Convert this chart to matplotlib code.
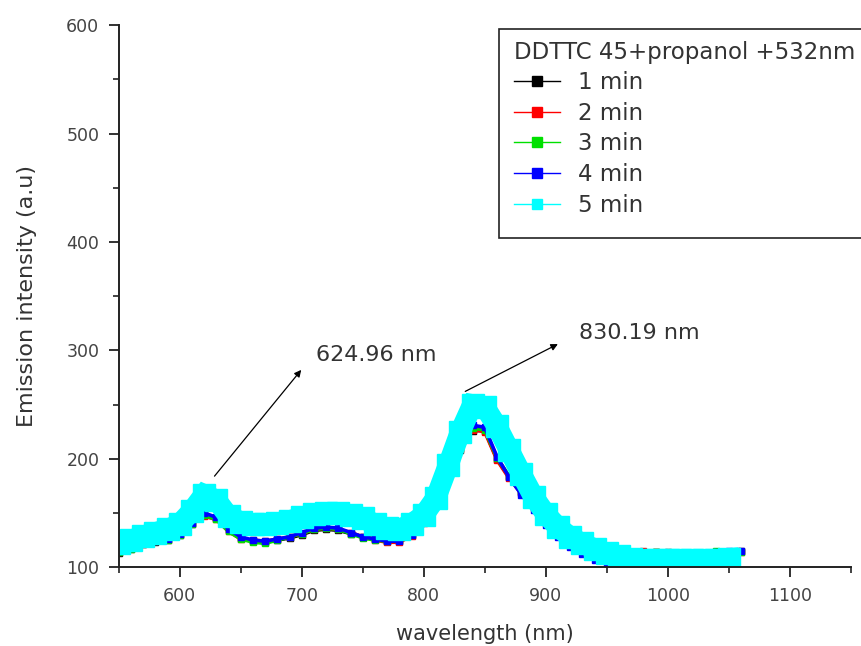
import matplotlib
matplotlib.use("Agg")
import matplotlib.pyplot as plt
from matplotlib.lines import Line2D
from matplotlib.patches import Rectangle
from matplotlib.ticker import MultipleLocator

# wavelength grid (nm)
wavelength = [550, 560, 570, 580, 590, 600, 610, 620, 630, 640,
              650, 660, 670, 680, 690, 700, 710, 720, 730, 740,
              750, 760, 770, 780, 790, 800, 810, 820, 830, 840,
              850, 860, 870, 880, 890, 900, 910, 920, 930, 940,
              950, 960, 970, 980, 990, 1000, 1010, 1020, 1030, 1040,
              1050, 1060]

# emission intensity (a.u) for each exposure time
min1 = [113, 117, 121, 123, 125, 130, 140, 148, 145, 134,
        127, 124, 123, 125, 127, 130, 134, 135, 134, 131,
        128, 126, 124, 124, 130, 142, 160, 184, 208, 226,
        226, 200, 183, 169, 156, 142, 132, 124, 118, 114,
        113, 112, 113, 114, 114, 114, 113, 113, 113, 114,
        114, 115]
min2 = [114, 118, 121, 124, 126, 131, 141, 147, 144, 133,
        126, 125, 124, 126, 128, 131, 135, 136, 135, 132,
        128, 125, 123, 123, 129, 141, 159, 183, 209, 227,
        225, 199, 182, 168, 155, 141, 131, 125, 119, 115,
        113, 113, 114, 115, 114, 113, 113, 112, 113, 113,
        114, 114]
min3 = [114, 117, 122, 124, 125, 130, 140, 148, 144, 133,
        126, 123, 122, 125, 128, 131, 135, 136, 135, 131,
        127, 125, 124, 125, 131, 143, 161, 185, 210, 228,
        227, 201, 184, 170, 157, 142, 132, 125, 119, 115,
        114, 113, 113, 113, 114, 113, 112, 112, 113, 115,
        114, 114]
min4 = [115, 118, 122, 124, 126, 131, 141, 150, 146, 135,
        128, 125, 124, 126, 128, 132, 136, 137, 136, 132,
        128, 126, 124, 124, 130, 143, 162, 188, 213, 231,
        229, 202, 183, 167, 153, 139, 128, 119, 112, 107,
        104, 102, 104, 108, 111, 112, 113, 113, 113, 114,
        115, 115]
min5 = [122, 125, 129, 132, 135, 140, 152, 167, 162, 147,
        142, 140, 140, 141, 143, 146, 149, 150, 150, 148,
        145, 140, 136, 135, 140, 148, 164, 194, 225, 250,
        248, 230, 208, 186, 165, 149, 137, 128, 122, 117,
        113, 110, 108, 107, 107, 107, 107, 107, 107, 107,
        108]

labels = ["1 min", "2 min", "3 min", "4 min", "5 min"]
colors = ["#000000", "#ff0000", "#00e000", "#0000ff", "#00ffff"]

fig = plt.figure(figsize=(8.61, 6.46), dpi=100)
ax = fig.add_axes([0.138, 0.122, 0.85, 0.839])

series = [min1, min2, min3, min4]
for vals, c in zip(series, colors[:4]):
    ax.plot(wavelength[:len(vals)], vals, color=c, lw=2.6, marker="s",
            ms=4, mec=c, mfc=c)
# 5 min curve, drawn thick on top
ax.plot(wavelength[:len(min5)], min5, color=colors[4], lw=15, marker="s",
        ms=16, mec=colors[4], mfc=colors[4], solid_joinstyle="miter")

ax.set_xlim(550, 1150)
ax.set_ylim(100, 600)
ax.xaxis.set_major_locator(MultipleLocator(100))
ax.xaxis.set_minor_locator(MultipleLocator(50))
ax.yaxis.set_major_locator(MultipleLocator(100))
ax.yaxis.set_minor_locator(MultipleLocator(50))

for s in ["top", "right"]:
    ax.spines[s].set_visible(False)
for s in ["left", "bottom"]:
    ax.spines[s].set_color("#222222")
    ax.spines[s].set_linewidth(1.4)

ax.tick_params(which="major", direction="out", length=7, width=1.3,
               color="#222222", labelsize=12.5, labelcolor="#444444", pad=7)
ax.tick_params(which="minor", direction="out", length=4, width=1.2,
               color="#222222")
ax.set_xticks([600, 700, 800, 900, 1000, 1100])

ax.set_xlabel("wavelength (nm)", fontsize=15, color="#333333", labelpad=14)
ax.set_ylabel("Emission intensity (a.u)", fontsize=16, color="#333333",
              labelpad=21)

# peak annotations
ax.annotate("", xy=(701, 284), xytext=(627, 182),
            arrowprops=dict(arrowstyle="-|>", color="black", lw=0.9,
                            mutation_scale=10))
ax.text(712, 296, "624.96 nm", fontsize=16, color="#333333", va="center")
ax.annotate("", xy=(912, 307), xytext=(832, 261),
            arrowprops=dict(arrowstyle="-|>", color="black", lw=0.9,
                            mutation_scale=10))
ax.text(927, 316, "830.19 nm", fontsize=16, color="#333333", va="center")

# legend frame runs past the right edge of the figure, as in the original
frame = Rectangle((0.52, 0.607), 0.6, 0.386, transform=ax.transAxes,
                  facecolor="white", edgecolor="#222222", lw=1.2,
                  clip_on=False, zorder=4)
ax.add_patch(frame)

handles = [Line2D([], [], color=c, lw=1, marker="s", ms=7, mec=c, mfc=c)
           for c in colors]
leg = ax.legend(handles, labels, title="DDTTC 45+propanol +532nm",
                loc="upper left", bbox_to_anchor=(0.531, 0.984),
                alignment="left", fontsize=16.5, title_fontsize=16.5,
                frameon=False, borderpad=0.3, labelspacing=0.33,
                handlelength=2.0, handletextpad=0.8, borderaxespad=0)
leg.set_zorder(5)
leg.get_title().set_color("#333333")
for t in leg.get_texts():
    t.set_color("#333333")

fig.savefig("out.png", dpi=100)
